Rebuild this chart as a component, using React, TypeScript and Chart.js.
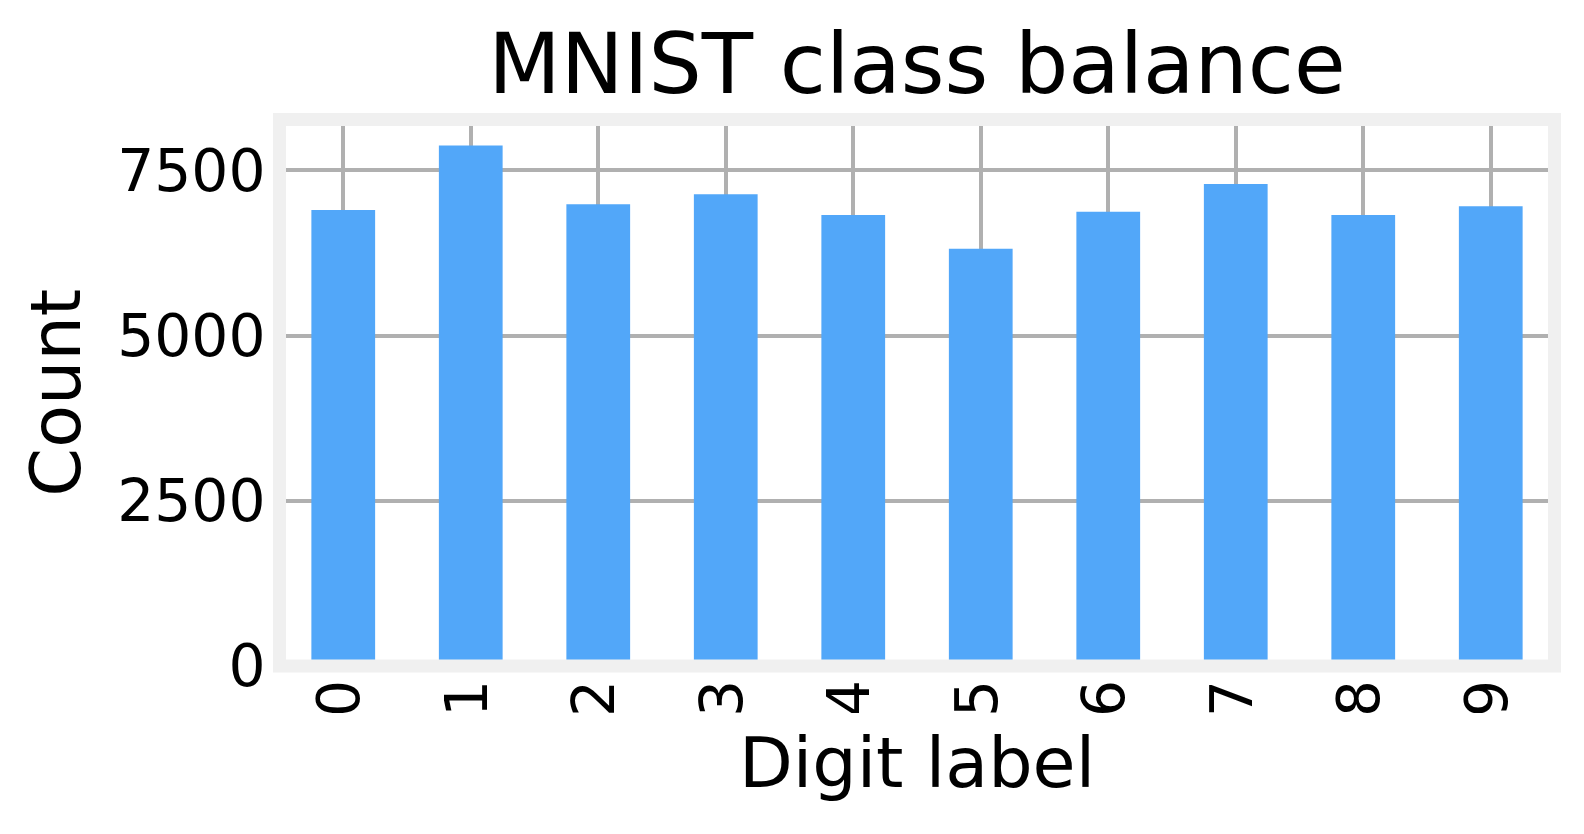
import { useEffect, useRef } from 'react'
import { Chart, registerables } from 'chart.js'

Chart.register(...registerables)

// MNIST (train + test) sample count per digit
const digits = ['0', '1', '2', '3', '4', '5', '6', '7', '8', '9']
const counts = [6903, 7877, 6990, 7141, 6824, 6313, 6876, 7293, 6825, 6958]
const yTicks = [0, 2500, 5000, 7500]
const yMax   = 8271

const FONT  = "'DejaVu Sans', sans-serif"
const BAR   = '#52a7f9'
const GRID  = '#b0b0b0'
const FRAME = '#f0f0f0'

// thick light frame centred on the axes edge (covers bar feet + edge gridlines)
const framePlugin = {
  id: 'frame',
  afterDatasetsDraw(chart: Chart) {
    const { ctx, chartArea: a } = chart
    ctx.save()
    ctx.strokeStyle = FRAME
    ctx.lineWidth = 13
    ctx.strokeRect(a.left, a.top, a.right - a.left, a.bottom - a.top)
    ctx.restore()
  },
}

// rotated digit labels, cut off at the bottom like in the source picture
const xLabelPlugin = {
  id: 'xlabels',
  afterDraw(chart: Chart) {
    const { ctx, chartArea: a } = chart
    const xs = chart.scales.x
    ctx.save()
    ctx.beginPath()
    ctx.rect(a.left - 60, a.bottom + 7, a.right - a.left + 120, 40)
    ctx.clip()
    ctx.font = `58.3px ${FONT}`
    ctx.fillStyle = '#000'
    ctx.textAlign = 'right'
    ctx.textBaseline = 'alphabetic'
    digits.forEach((d, i) => {
      ctx.save()
      ctx.translate(xs.getPixelForTick(i) + 16, a.bottom + 14)
      ctx.rotate(-Math.PI / 2)
      ctx.fillText(d, 0, 0)
      ctx.restore()
    })
    ctx.restore()
  },
}

function ClassBalanceChart() {
  const ref   = useRef<HTMLCanvasElement>(null)
  const chart = useRef<Chart | null>(null)

  useEffect(() => {
    if (!ref.current) return
    chart.current?.destroy()
    chart.current = new Chart(ref.current, {
      type: 'bar',
      data: {
        labels: digits,
        datasets: [{
          data: counts, backgroundColor: BAR, borderWidth: 0,
          barPercentage: 0.5, categoryPercentage: 1,
        }],
      },
      options: {
        animation: false,
        responsive: true, maintainAspectRatio: false,
        layout: { padding: { top: 0, left: 0, right: 29.5, bottom: 0 } },
        plugins: {
          legend:  { display: false },
          tooltip: { enabled: false },
          title: {
            display: true, text: 'MNIST class balance', fullSize: false, color: '#000',
            font: { family: FONT, size: 84, weight: 'normal', lineHeight: 1.1 },
            padding: { top: 25.2, bottom: 1.9 },
          },
        },
        scales: {
          x: {
            type: 'category', offset: true,
            grid:   { color: GRID, lineWidth: 4, offset: false, drawTicks: false },
            border: { display: false },
            ticks:  { display: false },
            title: {
              display: true, text: 'Digit label', color: '#000',
              font: { family: FONT, size: 70 }, padding: { top: 0, bottom: 23 },
            },
            afterFit: (s: any) => { s.height = 168 },
          },
          y: {
            min: 0, max: yMax,
            grid:   { color: GRID, lineWidth: 4, drawTicks: false },
            border: { display: false },
            afterBuildTicks: (s: any) => { s.ticks = yTicks.map(v => ({ value: v })) },
            ticks: {
              color: '#000', font: { family: FONT, size: 58.3 },
              padding: 14, labelOffset: 5, autoSkip: false,
              callback: (v: any) => String(v),
            },
            title: {
              display: true, text: 'Count', color: '#000',
              font: { family: FONT, size: 70 }, padding: { top: 20, bottom: 0 },
            },
            afterFit: (s: any) => { s.width = 279.5 },
          },
        },
      },
      plugins: [framePlugin, xLabelPlugin],
    })
    return () => { chart.current?.destroy() }
  }, [])

  return (
    <div style={{ position: 'fixed', left: 0, top: 0, width: 1584, height: 834, background: '#fff' }}>
      <canvas ref={ref} />
    </div>
  )
}

export default function App() {
  return <ClassBalanceChart />
}
